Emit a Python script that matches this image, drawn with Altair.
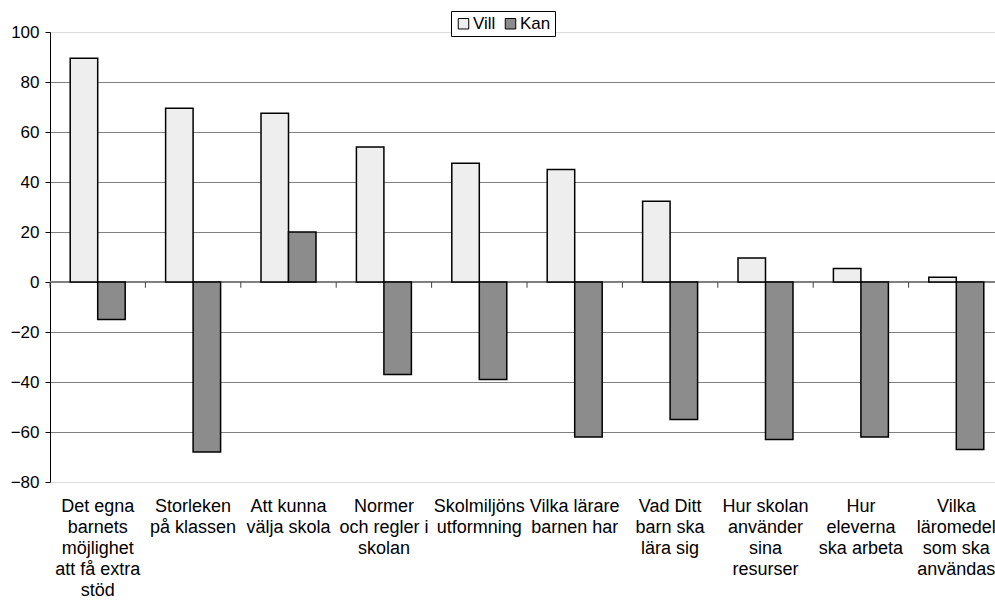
import altair as alt
import pandas as pd

# Category labels, one list of lines per group
label_lines = [
    ["Det egna", "barnets", "möjlighet", "att få extra", "stöd"],
    ["Storleken", "på klassen"],
    ["Att kunna", "välja skola"],
    ["Normer", "och regler i", "skolan"],
    ["Skolmiljöns", "utformning"],
    ["Vilka lärare", "barnen har"],
    ["Vad Ditt", "barn ska", "lära sig"],
    ["Hur skolan", "använder", "sina", "resurser"],
    ["Hur", "eleverna", "ska arbeta"],
    ["Vilka", "läromedel", "som ska", "användas"],
]
categories = ["\n".join(lines) for lines in label_lines]

series_names = ["Vill", "Kan"]
vill = [89.5, 69.5, 67.5, 54, 47.5, 45, 32.3, 9.6, 5.4, 1.9]
kan = [-15, -68, 20, -37, -39, -62, -55, -63, -62, -67]

y_ticks = [-80, -60, -40, -20, 0, 20, 40, 60, 80, 100]

rows = []
for c, v, k in zip(categories, vill, kan):
    rows.append({"category": c, "series": "Vill", "value": v})
    rows.append({"category": c, "series": "Kan", "value": k})
df = pd.DataFrame(rows)

FONT = "Liberation Sans"

x_axis = alt.Axis(
    title=None,
    domain=False,
    ticks=False,
    labelAngle=0,
    labelAlign="center",
    labelBaseline="top",
    labelPadding=15,
    labelFontSize=18,
    labelFont=FONT,
    labelColor="black",
    labelLineHeight=21,
    labelOverlap=False,
    labelBound=False,
    labelFlush=False,
    labelLimit=0,
    labelExpr="split(datum.label, '\\n')",
)

x_scale = alt.Scale(domain=categories, range=[0, 954], paddingInner=0, paddingOuter=0)

y_scale = alt.Scale(domain=[-80, 100], nice=False, zero=False)
y_axis = alt.Axis(
    title=None,
    values=y_ticks,
    domainColor="black",
    domainWidth=1,
    tickColor="black",
    tickSize=5,
    labelFontSize=17,
    labelFont=FONT,
    labelColor="black",
    labelPadding=6,
    grid=True,
    gridWidth=1,
    gridColor={
        "condition": {"test": "datum.value == 100 || datum.value == -80", "value": "#dcdcdc"},
        "value": "#808080",
    },
)

base = alt.Chart(df)

zero_line = alt.Chart(pd.DataFrame({"v": [0]})).mark_rule(
    color="#808080", strokeWidth=2
).encode(y=alt.Y("v:Q", scale=y_scale, axis=y_axis))

bars = base.mark_bar(stroke="black", strokeWidth=1.5).encode(
    x=alt.X("category:N", sort=categories, scale=x_scale, axis=x_axis),
    xOffset=alt.XOffset(
        "series:N",
        sort=series_names,
        scale=alt.Scale(domain=series_names, paddingInner=0, paddingOuter=0.735),
    ),
    y=alt.Y("value:Q", scale=y_scale, axis=y_axis),
    color=alt.Color(
        "series:N",
        sort=series_names,
        scale=alt.Scale(domain=series_names, range=["#eeeeee", "#8c8c8c"]),
        legend=alt.Legend(
            title=None,
            orient="none",
            legendX=401,
            legendY=-21,
            direction="horizontal",
            strokeColor="black",
            fillColor="white",
            padding=4,
            symbolType="square",
            symbolSize=110,
            symbolStrokeColor="black",
            symbolStrokeWidth=1,
            symbolOpacity=1,
            labelFontSize=17,
            labelFont=FONT,
            labelColor="black",
            labelOffset=1,
            columnPadding=6,
        ),
    ),
)

# small category tick marks hanging below the zero line at group boundaries
ticks = base.transform_filter("datum.series == 'Vill'").mark_rule(
    color="#404040", strokeWidth=1
).encode(
    x=alt.X("category:N", sort=categories, scale=x_scale, axis=x_axis, bandPosition=0),
    y=alt.datum(0),
    y2=alt.datum(-2.3),
)

chart = (
    alt.layer(zero_line, bars, ticks)
    .properties(
        width=945,
        height=450,
        autosize=alt.AutoSizeParams(type="none"),
        padding={"left": 50, "top": 32, "right": 0, "bottom": 119},
        background="white",
    )
    .configure_view(stroke=None)
)

chart.save("out.html", embed_options={"renderer": "svg", "actions": False})
